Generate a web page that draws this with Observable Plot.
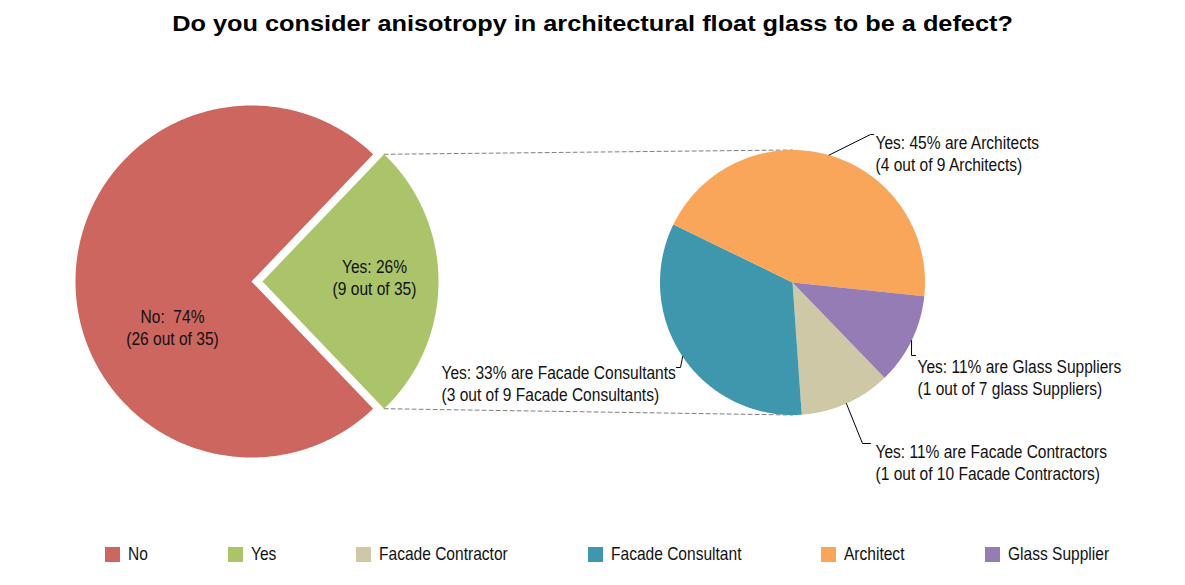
<!DOCTYPE html>
<html>
<head>
<meta charset="utf-8">
<script src="https://cdn.jsdelivr.net/npm/d3@7"></script>
<script src="https://cdn.jsdelivr.net/npm/@observablehq/plot@0.6"></script>
<style>
  html, body { margin: 0; padding: 0; background: #fff; }
  body { width: 1185px; height: 585px; overflow: hidden; position: relative;
         font-family: "Liberation Sans", Arial, sans-serif; color: #111; }
  #title { font-family: "Liberation Sans", Arial, sans-serif; font-weight: bold; font-size: 22px;
           height: 45px; line-height: 48px; color: #000; white-space: nowrap; text-align: center; }
  #title span { display: inline-block; transform: scaleX(1.15); transform-origin: 50% 50%; }
  #chart svg { display: block; }
  #legend { position: absolute; top: 546px; left: 105px; display: flex; align-items: center; font-size: 18.5px; white-space: nowrap; }
  #legend .item { display: flex; align-items: center; margin-right: 80px; height: 16px; }
  #legend .sw { width: 15px; height: 15px; margin-right: 8px; flex: none; }
  #legend .lab { white-space: nowrap; line-height: 16px; }
  #legend .lab span { display: inline-block; transform: scaleX(0.84); transform-origin: 0 50%; }
</style>
</head>
<body>
<div id="title"><span></span></div>
<div id="chart"></div>
<div id="legend"></div>
<script>
// ---------------- data ----------------
const titleText = "Do you consider anisotropy in architectural float glass to be a defect?";
const mainCategories = ["No", "Yes"];
const mainCounts = [26, 9];
const mainLabels = ["No:  74%\n(26 out of 35)", "Yes: 26%\n(9 out of 35)"];
const subCategories = ["Facade Contractor", "Facade Consultant", "Architect", "Glass Supplier"];
const subCounts = [1, 3, 4, 1];
const subLabels = [
  "Yes: 11% are Facade Contractors\n(1 out of 10 Facade Contractors)",
  "Yes: 33% are Facade Consultants\n(3 out of 9 Facade Consultants)",
  "Yes: 45% are Architects\n(4 out of 9 Architects)",
  "Yes: 11% are Glass Suppliers\n(1 out of 7 glass Suppliers)"
];
const legendCategories = ["No", "Yes", "Facade Contractor", "Facade Consultant", "Architect", "Glass Supplier"];
const legendColors = ["#CD665F", "#ABC46A", "#CFC8A6", "#3F97AD", "#F9A65A", "#967CB4"];

// ---------------- layout (pixels per unit = main radius) ----------------
const W = 1185, H = 485;
const K = 176;                 // px per unit, main pie radius = 1 unit
const mainC = [251, 236];      // px in svg
const px = (p) => [(p[0] - mainC[0]) / K, -(p[1] - mainC[1]) / K];
const mainR = 1, explode = 11 / K;
const subC = px([792, 237]);
const subR = 132.5 / K;
const subStart = 136 * Math.PI / 180;
const textScale = 0.84;
// label layout (px offsets from pie centres)
const mainLabelOff = [[-79, 45], [112, -4.5]];
const subLeader = [  // [elbow, end], offsets from sub centre
  [[70, 161], [78, 161]],
  [[-112, 85], [-116, 85]],
  [[78, -148], [81, -148]],
  [[119, 73], [123, 73]]
];
const subTextOff = [[83, 179], [-351, 100.5], [83, -130], [125, 94]];

// ---------------- geometry ----------------
const rad = (c, r, a) => [c[0] + r * Math.sin(a), c[1] + r * Math.cos(a)];
function slicePoly(key, c, r, a0, a1) {
  const pts = [{key, x: c[0], y: c[1]}];
  const n = Math.max(8, Math.ceil((a1 - a0) / 0.01));
  for (let i = 0; i <= n; i++) {
    const p = rad(c, r, a0 + (a1 - a0) * i / n);
    pts.push({key, x: p[0], y: p[1]});
  }
  pts.push({key, x: c[0], y: c[1]});
  return pts;
}
const yesFrac = mainCounts[1] / d3.sum(mainCounts);
const mainStart = Math.PI / 2 + Math.PI * yesFrac;
const mainArcs = d3.pie().sort(null).startAngle(mainStart).endAngle(mainStart + 2 * Math.PI)(mainCounts);
const subArcs = d3.pie().sort(null).startAngle(subStart).endAngle(subStart + 2 * Math.PI)(subCounts);

let rows = [];
const mainCenters = [];
mainArcs.forEach((a, i) => {
  const mid = (a.startAngle + a.endAngle) / 2;
  const off = i === 1 ? explode : 0;
  const c = rad([0, 0], off, mid);
  mainCenters.push(c);
  rows = rows.concat(slicePoly(mainCategories[i], c, mainR, a.startAngle, a.endAngle));
});
subArcs.forEach((a, i) => {
  rows = rows.concat(slicePoly(subCategories[i], subC, subR, a.startAngle, a.endAngle));
});

// connector lines (from Yes slice corners to top/bottom of sub pie)
const yesArc = mainArcs[1];
const topA = rad(mainCenters[1], mainR, yesArc.startAngle);
const botA = rad(mainCenters[1], mainR, yesArc.endAngle);
const connectors = [
  {k: "top", x: topA[0], y: topA[1]}, {k: "top", x: subC[0], y: subC[1] + subR},
  {k: "bot", x: botA[0], y: botA[1]}, {k: "bot", x: subC[0], y: subC[1] - subR}
];

// leaders
let leaders = [];
subArcs.forEach((a, i) => {
  const mid = (a.startAngle + a.endAngle) / 2;
  const e = rad(subC, subR, mid);
  leaders.push({k: i, x: e[0], y: e[1]});
  subLeader[i].forEach(o => leaders.push({k: i, x: subC[0] + o[0] / K, y: subC[1] - o[1] / K}));
});

const labelRows = mainLabels.map((t, i) => ({t,
  x: mainCenters[0][0] + mainLabelOff[i][0] / K + (i === 1 ? explode : 0),
  y: mainCenters[0][1] - mainLabelOff[i][1] / K}));
const subLabelRows = subLabels.map((t, i) => ({t, x: subC[0] + subTextOff[i][0] / K, y: subC[1] - subTextOff[i][1] / K}));

const xDom = [-mainC[0] / K, (W - mainC[0]) / K];
const yDom = [-(H - mainC[1]) / K, mainC[1] / K];

const chart = Plot.plot({
  width: W, height: H,
  margin: 0,
  x: {domain: xDom, range: [0, W], axis: null},
  y: {domain: yDom, range: [H, 0], axis: null},
  color: {domain: legendCategories, range: legendColors},
  style: {fontFamily: '"Liberation Sans", Arial, sans-serif', background: "#fff"},
  marks: [
    Plot.line(connectors, {x: "x", y: "y", z: "k", stroke: "#7f7f7f", strokeWidth: 1, strokeDasharray: "4,3"}),
    Plot.line(rows, {x: "x", y: "y", z: "key", fill: "key", stroke: null, curve: "linear"}),
    Plot.line(leaders, {x: "x", y: "y", z: "k", stroke: "#000", strokeWidth: 1}),
    Plot.text(labelRows, {x: "x", y: "y", text: "t", textAnchor: "middle", lineAnchor: "middle",
      fontSize: 18.5, lineHeight: 1.19, fill: "#111"}),
    Plot.text(subLabelRows, {x: "x", y: "y", text: "t", textAnchor: "start", lineAnchor: "middle",
      fontSize: 18.5, lineHeight: 1.19, fill: "#111"})
  ]
});
// condense label text horizontally (narrow face is not installed)
chart.querySelectorAll("text").forEach(t => {
  const tr = t.getAttribute("transform");
  if (tr) t.setAttribute("transform", tr + ` scale(${textScale},1)`);
  else {
    const x = +t.getAttribute("x") || 0, y = +t.getAttribute("y") || 0;
    t.removeAttribute("x"); t.removeAttribute("y");
    t.setAttribute("transform", `translate(${x},${y}) scale(${textScale},1)`);
  }
});
document.getElementById("chart").appendChild(chart);
document.querySelector("#title span").textContent = titleText;

const leg = d3.select("#legend");
legendCategories.forEach((c, i) => {
  const it = leg.append("div").attr("class", "item");
  it.append("div").attr("class", "sw").style("background", legendColors[i]);
  const lab = it.append("div").attr("class", "lab");
  const sp = lab.append("span").text(c);
  lab.style("width", sp.node().getBoundingClientRect().width + "px");
});
</script>
</body>
</html>
